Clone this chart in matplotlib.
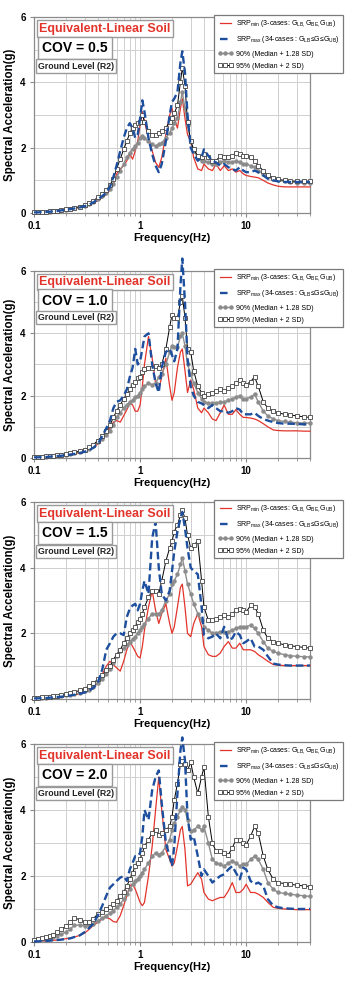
import matplotlib
matplotlib.use('Agg')
import matplotlib.pyplot as plt
from matplotlib.ticker import LogLocator, NullFormatter

plt.rcParams['font.family'] = ['Liberation Sans', 'DejaVu Sans']

# frequency points (Hz), shared by every curve
freq = [0.1, 0.11, 0.12, 0.13, 0.14, 0.15, 0.165, 0.18,
        0.2, 0.22, 0.24, 0.27, 0.3, 0.33, 0.36,
        0.4, 0.44, 0.48, 0.52, 0.56, 0.6, 0.65, 0.7, 0.75, 0.8, 0.85, 0.9, 0.95,
        1.0, 1.05, 1.1, 1.2, 1.3, 1.4, 1.5, 1.6, 1.75, 1.9,
        2.0, 2.1, 2.25, 2.4, 2.5, 2.65, 2.8, 3.0, 3.2, 3.5, 3.8,
        4.0, 4.4, 4.8, 5.2, 5.7, 6.2, 6.8, 7.4, 8.0, 8.7, 9.4,
        10, 11, 12, 13, 14.5, 16, 18, 20, 23, 26, 30, 35, 40]

cov_labels = ['COV = 0.5', 'COV = 1.0', 'COV = 1.5', 'COV = 2.0']

# ---- COV = 0.5
srp_min_05 = [0.02, 0.02, 0.03, 0.03, 0.04, 0.05, 0.06, 0.08,
              0.10, 0.12, 0.14, 0.17, 0.20, 0.25, 0.30,
              0.38, 0.47, 0.57, 0.7, 0.9, 1.2, 1.35, 1.45, 1.6, 1.8, 1.65, 1.9, 2.2,
              2.7, 3.1, 2.8, 2.3, 1.9, 1.55, 1.4, 1.7, 2.4, 3.0,
              3.2, 2.9, 2.6, 3.2, 3.5, 2.9, 2.4, 2.2, 1.7, 1.35, 1.3,
              1.5, 1.35, 1.3, 1.5, 1.3, 1.45, 1.3, 1.35, 1.25, 1.3, 1.2,
              1.15, 1.12, 1.1, 1.08, 1.0, 0.92, 0.86, 0.82, 0.8, 0.8, 0.8, 0.8, 0.8]
srp_max_05 = [0.02, 0.02, 0.03, 0.03, 0.04, 0.05, 0.06, 0.08,
              0.10, 0.12, 0.14, 0.17, 0.21, 0.26, 0.32,
              0.42, 0.52, 0.62, 0.8, 1.1, 1.45, 1.9, 2.3, 2.6, 2.75, 2.6, 2.3, 2.4,
              2.9, 3.45, 3.1, 2.3, 1.8, 1.45, 1.25, 1.5, 2.2, 3.0,
              3.4, 3.5, 3.7, 4.6, 4.95, 4.3, 3.0, 2.0, 1.8, 1.6, 1.7,
              1.95, 1.75, 1.6, 1.55, 1.45, 1.5, 1.4, 1.35, 1.3, 1.4, 1.3,
              1.25, 1.25, 1.3, 1.25, 1.15, 1.05, 1.0, 0.97, 0.95, 0.95, 0.95, 0.95, 0.95]
p90_05 = [0.02, 0.02, 0.03, 0.03, 0.04, 0.05, 0.06, 0.08,
          0.10, 0.12, 0.14, 0.18, 0.22, 0.27, 0.33,
          0.43, 0.52, 0.62, 0.74, 0.9, 1.1, 1.3, 1.5, 1.7, 1.85, 1.95, 2.05, 2.15,
          2.3, 2.35, 2.3, 2.2, 2.1, 2.05, 2.1, 2.15, 2.3, 2.45,
          2.6, 2.75, 2.9, 3.4, 3.7, 3.2, 2.7, 2.2, 1.9, 1.7, 1.6,
          1.6, 1.55, 1.5, 1.5, 1.55, 1.6, 1.55, 1.55, 1.6, 1.55, 1.5,
          1.5, 1.45, 1.4, 1.3, 1.2, 1.1, 1.05, 1.0, 0.97, 0.95, 0.93, 0.92, 0.92]
p95_05 = [0.02, 0.02, 0.03, 0.04, 0.05, 0.06, 0.07, 0.09,
          0.11, 0.13, 0.16, 0.2, 0.24, 0.3, 0.37,
          0.48, 0.58, 0.7, 0.85, 1.05, 1.35, 1.65, 1.95, 2.2, 2.45, 2.6, 2.7, 2.75,
          2.8, 3.0, 2.8, 2.5, 2.4, 2.4, 2.45, 2.5, 2.6, 2.8,
          2.9, 3.05, 3.3, 4.0, 4.45, 3.9, 2.8, 2.2, 1.95, 1.75, 1.7,
          1.8, 1.7, 1.6, 1.6, 1.75, 1.7, 1.7, 1.75, 1.85, 1.8, 1.75,
          1.75, 1.7, 1.6, 1.45, 1.3, 1.15, 1.08, 1.03, 1.0, 0.98, 0.97, 0.97, 0.97]

# ---- COV = 1.0
srp_min_10 = [0.02, 0.02, 0.03, 0.03, 0.04, 0.05, 0.06, 0.08,
              0.10, 0.12, 0.14, 0.17, 0.21, 0.26, 0.33,
              0.45, 0.6, 0.78, 0.95, 1.15, 1.2, 1.15, 1.35, 1.55, 1.75, 1.7, 1.5, 1.5,
              1.7, 2.3, 3.0, 3.9, 3.2, 2.4, 2.2, 2.6, 3.2, 2.3,
              1.85, 2.1, 2.9, 3.4, 3.5, 2.8, 2.1, 2.5, 2.2, 1.6, 1.45,
              1.6, 1.45, 1.25, 1.2, 1.45, 1.7, 1.4, 1.4, 1.55, 1.4, 1.3,
              1.3, 1.28, 1.25, 1.2, 1.1, 1.0, 0.9, 0.88, 0.87, 0.87, 0.87, 0.86, 0.86]
srp_max_10 = [0.02, 0.02, 0.03, 0.03, 0.04, 0.05, 0.06, 0.07,
              0.09, 0.11, 0.13, 0.16, 0.2, 0.25, 0.32,
              0.45, 0.7, 0.95, 1.2, 1.6, 1.8, 1.85, 2.0, 2.2, 2.6, 2.9, 3.5, 3.0,
              3.1, 3.5, 3.9, 4.0, 3.0, 2.4, 2.1, 2.9, 3.4, 3.5,
              3.3, 3.1, 3.5, 5.5, 6.4, 5.0, 3.2, 2.3, 2.0, 1.8, 1.75,
              1.7, 1.6, 1.7, 1.6, 1.5, 1.5, 1.45, 1.5, 1.6, 1.55, 1.4,
              1.4, 1.4, 1.45, 1.35, 1.25, 1.2, 1.15, 1.12, 1.1, 1.1, 1.09, 1.08, 1.08]
p90_10 = [0.03, 0.03, 0.04, 0.04, 0.05, 0.06, 0.07, 0.09,
          0.11, 0.13, 0.16, 0.19, 0.24, 0.3, 0.37,
          0.5, 0.62, 0.75, 0.88, 1.05, 1.3, 1.45, 1.6, 1.7, 1.8, 1.85, 1.95, 2.0,
          2.1, 2.2, 2.3, 2.4, 2.35, 2.4, 2.6, 2.7, 3.0, 3.4,
          3.6, 3.55, 3.55, 3.9, 4.0, 3.6, 3.0, 2.7, 2.4, 2.1, 1.9,
          1.8, 1.75, 1.75, 1.75, 1.8, 1.8, 1.85, 1.9, 1.95, 2.0, 1.9,
          1.9, 1.95, 2.05, 1.8, 1.5, 1.35, 1.25, 1.2, 1.17, 1.15, 1.13, 1.12, 1.12]
p95_10 = [0.03, 0.03, 0.04, 0.05, 0.06, 0.07, 0.08, 0.1,
          0.13, 0.15, 0.18, 0.22, 0.27, 0.34, 0.42,
          0.56, 0.7, 0.85, 1.05, 1.3, 1.5, 1.7, 1.9, 2.05, 2.2, 2.35, 2.45, 2.55,
          2.6, 2.75, 2.85, 2.9, 2.9, 2.95, 2.9, 3.0, 3.5, 4.2,
          4.6, 4.5, 4.5, 5.0, 5.2, 4.5, 3.5, 3.4, 2.8, 2.3, 2.1,
          2.0, 2.05, 2.1, 2.15, 2.2, 2.15, 2.25, 2.3, 2.4, 2.5, 2.4,
          2.35, 2.45, 2.6, 2.3, 1.8, 1.6, 1.5, 1.45, 1.4, 1.38, 1.35, 1.32, 1.3]

# ---- COV = 1.5
srp_min_15 = [0.02, 0.02, 0.03, 0.03, 0.04, 0.05, 0.06, 0.07,
              0.09, 0.11, 0.13, 0.16, 0.2, 0.26, 0.34,
              0.5, 0.75, 1.0, 1.15, 1.05, 0.95, 0.85, 1.15, 1.5, 1.75, 1.6, 1.45, 1.3,
              1.25, 1.6, 2.1, 2.8, 3.3, 2.7, 2.3, 2.6, 2.9, 2.3,
              2.0, 2.2, 2.8, 3.4, 3.5, 2.8, 2.0, 1.9, 2.3, 2.6, 2.2,
              1.6, 1.35, 1.3, 1.3, 1.4, 1.6, 1.75, 1.55, 1.55, 1.7, 1.5,
              1.5, 1.5, 1.45, 1.35, 1.25, 1.15, 1.05, 1.03, 1.02, 1.02, 1.02, 1.02, 1.02]
srp_max_15 = [0.02, 0.02, 0.03, 0.03, 0.04, 0.05, 0.06, 0.07,
              0.09, 0.11, 0.13, 0.16, 0.2, 0.26, 0.33,
              0.5, 0.9, 1.5, 1.7, 1.9, 2.0, 2.0, 1.95, 2.5, 2.75, 2.85, 2.9, 2.7,
              2.9, 3.3, 3.6, 3.2, 4.9, 5.4, 4.0, 3.2, 3.0, 3.3,
              3.9, 4.5, 5.1, 5.5, 5.7, 5.2, 4.6, 4.0, 3.9, 3.8, 2.8,
              1.95, 1.85, 1.9, 2.0, 1.85, 2.2, 1.8, 1.85, 2.05, 1.95, 1.7,
              1.75, 1.85, 1.6, 1.6, 1.5, 1.3, 1.08, 1.05, 1.03, 1.02, 1.02, 1.02, 1.02]
p90_15 = [0.03, 0.03, 0.04, 0.04, 0.05, 0.06, 0.07, 0.09,
          0.11, 0.13, 0.15, 0.19, 0.23, 0.29, 0.36,
          0.48, 0.6, 0.75, 0.9, 1.1, 1.3, 1.45, 1.55, 1.65, 1.75, 1.82, 1.9, 2.0,
          2.1, 2.2, 2.3, 2.45, 2.6, 2.6, 2.6, 2.7, 3.0, 3.2,
          3.5, 3.6, 3.8, 4.1, 4.3, 3.9, 3.5, 3.2, 2.9, 2.6, 2.4,
          2.2, 2.1, 2.0, 2.0, 2.05, 2.05, 2.05, 2.1, 2.15, 2.2, 2.2,
          2.2, 2.25, 2.15, 2.0, 1.75, 1.55, 1.45, 1.4, 1.35, 1.32, 1.3, 1.29, 1.28]
p95_15 = [0.03, 0.04, 0.05, 0.06, 0.07, 0.08, 0.1, 0.12,
          0.15, 0.18, 0.21, 0.26, 0.32, 0.4, 0.48,
          0.6, 0.72, 0.87, 1.0, 1.2, 1.35, 1.5, 1.7, 1.85, 2.0, 2.1, 2.2, 2.35,
          2.45, 2.6, 2.8, 3.1, 3.3, 3.3, 3.2, 3.6, 4.2, 4.6,
          4.8, 5.1, 5.3, 5.6, 5.75, 5.5, 5.0, 4.6, 4.7, 4.8, 3.6,
          2.8, 2.4, 2.4, 2.45, 2.5, 2.55, 2.5, 2.6, 2.7, 2.75, 2.7,
          2.65, 2.85, 2.8, 2.6, 2.1, 1.85, 1.75, 1.7, 1.65, 1.62, 1.6, 1.57, 1.55]

# ---- COV = 2.0
srp_min_20 = [0.02, 0.02, 0.03, 0.03, 0.04, 0.05, 0.06, 0.08,
              0.1, 0.12, 0.15, 0.2, 0.27, 0.38, 0.5,
              0.6, 0.7, 0.75, 0.7, 0.62, 0.6, 0.8, 1.1, 1.4, 1.7, 1.75, 1.6, 1.4,
              1.2, 1.1, 1.2, 2.0, 2.9, 4.0, 5.0, 4.0, 2.8, 2.5,
              2.3, 2.4, 2.9, 3.4, 3.5, 2.8, 1.7, 1.75, 1.9, 2.1, 1.9,
              1.5, 1.3, 1.25, 1.3, 1.35, 1.35, 1.55, 1.8, 1.5, 1.5, 1.6,
              1.75, 1.5, 1.5, 1.45, 1.35, 1.2, 1.05, 1.02, 1.0, 0.99, 0.98, 0.98, 0.98]
srp_max_20 = [0.02, 0.02, 0.03, 0.03, 0.04, 0.05, 0.06, 0.07,
              0.09, 0.11, 0.15, 0.2, 0.3, 0.42, 0.55,
              0.8, 1.1, 1.4, 1.65, 1.75, 1.85, 1.95, 2.0, 1.85, 2.2, 2.4, 2.6, 2.6,
              2.7, 3.2, 4.0, 3.7, 4.6, 5.0, 5.2, 4.2, 3.0, 2.6,
              2.3, 2.9, 4.5, 5.8, 6.2, 5.5, 3.8, 3.1, 3.2, 2.6, 2.0,
              2.2, 2.0, 1.8, 1.9, 2.0, 2.05, 2.2, 2.3, 2.1, 1.9, 2.25,
              2.2, 1.85, 1.75, 1.8, 1.7, 1.3, 1.1, 1.05, 1.02, 1.01, 1.0, 1.0, 1.0]
p90_20 = [0.05, 0.07, 0.09, 0.11, 0.13, 0.15, 0.19, 0.24,
          0.3, 0.4, 0.5, 0.52, 0.48, 0.5, 0.55,
          0.65, 0.72, 0.8, 0.88, 0.95, 1.05, 1.15, 1.3, 1.45, 1.6, 1.75, 1.85, 1.92,
          2.0, 2.1, 2.2, 2.4, 2.6, 2.7, 2.65, 2.7, 2.9, 3.1,
          3.4, 3.6, 3.8, 4.0, 4.1, 4.0, 3.7, 3.35, 3.4, 3.5, 3.4,
          3.5, 3.0, 2.5, 2.4, 2.35, 2.3, 2.4, 2.45, 2.4, 2.3, 2.35,
          2.35, 2.5, 2.6, 2.5, 2.2, 1.8, 1.6, 1.5, 1.47, 1.45, 1.42, 1.4, 1.38]
p95_20 = [0.07, 0.09, 0.12, 0.15, 0.18, 0.22, 0.3, 0.38,
          0.48, 0.6, 0.72, 0.68, 0.6, 0.62, 0.7,
          0.85, 0.92, 1.0, 1.05, 1.15, 1.25, 1.38, 1.5, 1.7, 1.9, 2.1, 2.3, 2.4,
          2.5, 2.7, 2.9, 3.1, 3.3, 3.4, 3.25, 3.3, 3.4, 3.5,
          3.8, 4.3, 4.8, 5.4, 5.5, 5.4, 5.2, 5.45, 5.0, 4.5, 5.0,
          5.3, 3.8, 3.0, 2.75, 2.75, 2.7, 2.65, 2.85, 3.1, 3.1, 3.0,
          2.95, 3.2, 3.5, 3.3, 2.6, 2.2, 1.9, 1.8, 1.77, 1.75, 1.72, 1.7, 1.68]

panels = [
    (cov_labels[0], srp_min_05, srp_max_05, p90_05, p95_05),
    (cov_labels[1], srp_min_10, srp_max_10, p90_10, p95_10),
    (cov_labels[2], srp_min_15, srp_max_15, p90_15, p95_15),
    (cov_labels[3], srp_min_20, srp_max_20, p90_20, p95_20),
]

leg_labels = [
    r'SRP$_{\mathregular{min}}$ (3-cases: G$_{\mathregular{LB,}}$G$_{\mathregular{BE,}}$G$_{\mathregular{UB}}$)',
    r'SRP$_{\mathregular{max}}$ (34-cases : G$_{\mathregular{LB}}$≤G≤G$_{\mathregular{UB}}$)',
    '90% (Median + 1.28 SD)',
    '95% (Median + 2 SD)',
]

# axes boxes in figure fractions (left, bottom, width, height)
boxes = [[0.095, 0.7835, 0.771, 0.1992],
         [0.095, 0.5346, 0.771, 0.1900],
         [0.095, 0.2896, 0.771, 0.2002],
         [0.095, 0.0427, 0.771, 0.2012]]

red = '#e3342b'
blue = '#1d4f9e'
grid_c = '#cfcfcf'
frame_c = '#8a8a8a'

fig = plt.figure(figsize=(3.58, 9.84), dpi=100)

for box, (cov, smin, smax, s90, s95) in zip(boxes, panels):
    ax = fig.add_axes(box)
    ax.set_xscale('log')

    l1, = ax.plot(freq, smin, color=red, lw=0.9, zorder=3, clip_on=False)
    l3, = ax.plot(freq, s90, color='#8c8c8c', lw=1.0, marker='o', ms=2.2,
                  mfc='#8c8c8c', mec='#8c8c8c', zorder=4, clip_on=False)
    l4, = ax.plot(freq, s95, color='black', lw=0.7, marker='s', ms=2.8,
                  mfc='white', mec='#444444', mew=0.6, zorder=5, clip_on=False)
    l2, = ax.plot(freq, smax, color=blue, lw=1.7, ls=(0, (3.2, 1.6)), zorder=6, clip_on=False)

    ax.set_xlim(0.1, 40)
    ax.set_ylim(0, 6)
    ax.set_xticks([0.1, 1, 10])
    ax.set_xticklabels(['0.1', '1', '10'])
    ax.xaxis.set_minor_locator(LogLocator(base=10, subs=range(2, 10)))
    ax.xaxis.set_minor_formatter(NullFormatter())
    ax.set_yticks([0, 2, 4, 6])
    ax.set_yticks([1, 3, 5], minor=True)
    ax.grid(True, which='both', color=grid_c, lw=0.7, zorder=0)
    ax.set_axisbelow(True)
    ax.tick_params(which='major', length=3, width=0.8, color=frame_c, labelsize=7, pad=3)
    ax.tick_params(which='minor', axis='x', length=2, width=0.6, color=frame_c)
    ax.tick_params(which='minor', axis='y', length=0)
    for lab in ax.get_xticklabels() + ax.get_yticklabels():
        lab.set_fontweight('bold')
    for sp in ax.spines.values():
        sp.set_color(frame_c)
        sp.set_linewidth(0.9)

    ax.set_xlabel('Frequency(Hz)', fontsize=8, fontweight='bold', labelpad=1)
    ax.set_ylabel('Spectral Acceleration(g)', fontsize=8.3, fontweight='bold', labelpad=3)

    ax.text(0.257, 0.941, 'Equivalent-Linear Soil', transform=ax.transAxes,
            ha='center', va='center', color=red, fontsize=9, fontweight='bold', zorder=10,
            bbox=dict(boxstyle='square,pad=0.18', fc='white', ec='#9a9a9a', lw=1.0))
    ax.text(0.149, 0.842, cov, transform=ax.transAxes,
            ha='center', va='center', color='black', fontsize=10, fontweight='bold', zorder=10,
            bbox=dict(boxstyle='square,pad=0.3', fc='white', ec='#9a9a9a', lw=1.0))
    ax.text(0.152, 0.75, 'Ground Level (R2)', transform=ax.transAxes,
            ha='center', va='center', color='#222222', fontsize=6.3, fontweight='bold', zorder=10,
            bbox=dict(boxstyle='square,pad=0.25', fc='white', ec='#9a9a9a', lw=1.0))

    leg = ax.legend([l1, l2, l3, l4], leg_labels, loc='upper left',
                    bbox_to_anchor=(0.652, 1.012), numpoints=3,
                    prop=dict(family=['Liberation Sans Narrow', 'Liberation Sans', 'DejaVu Sans'], size=5.0),
                    frameon=True, fancybox=False, framealpha=1, edgecolor='#7a7a7a',
                    borderpad=0.5, handlelength=2.3, handletextpad=0.35, labelspacing=0.75,
                    borderaxespad=0)
    leg.get_frame().set_linewidth(0.9)
    leg.set_zorder(12)

fig.savefig('out.png', dpi=100)
